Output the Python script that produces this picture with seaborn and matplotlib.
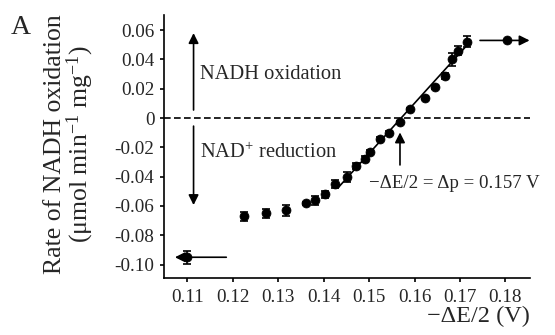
import matplotlib
matplotlib.use("Agg")
import matplotlib.pyplot as plt
import seaborn as sns
import numpy as np
import pandas as pd

# ---- data ----
delta_e = [0.1100, 0.1226, 0.1273, 0.1317, 0.1362, 0.1380, 0.1402, 0.1426,
           0.1451, 0.1472, 0.1492, 0.1502, 0.1523, 0.1544, 0.1568, 0.1590,
           0.1623, 0.1644, 0.1668, 0.1683, 0.1695, 0.1715, 0.1803]
rate = [-0.095, -0.067, -0.065, -0.063, -0.058, -0.056, -0.052, -0.045,
        -0.040, -0.033, -0.028, -0.023, -0.014, -0.010, -0.003, 0.006,
        0.014, 0.021, 0.029, 0.040, 0.046, 0.052, 0.053]
rate_err = [0.0044, 0.0032, 0.003, 0.0038, 0.001, 0.003, 0.0025, 0.003,
            0.0034, 0.002, 0.002, 0.0015, 0.001, 0.001, 0.001, 0.001,
            0.001, 0.0015, 0.002, 0.0044, 0.0032, 0.0038, 0.0]
fit_x = [0.1432, 0.1722]
fit_y = [-0.0475, 0.0520]
delta_p = 0.157
yticks = [0.06, 0.04, 0.02, 0.0, -0.02, -0.04, -0.06, -0.08, -0.10]
ytick_labels = ["0.06", "0.04", "0.02", "0", "-0.02", "-0.04", "-0.06", "-0.08", "-0.10"]
xticks = [0.11, 0.12, 0.13, 0.14, 0.15, 0.16, 0.17, 0.18]
xtick_labels = ["0.11", "0.12", "0.13", "0.14", "0.15", "0.16", "0.17", "0.18"]

df = pd.DataFrame({"x": delta_e, "y": rate, "err": rate_err})
fit_df = pd.DataFrame({"x": fit_x, "y": fit_y})

sns.set_theme(style="ticks")
plt.rcParams["font.family"] = ["Liberation Serif", "DejaVu Serif"]
plt.rcParams["mathtext.fontset"] = "custom"
plt.rcParams["mathtext.rm"] = "Liberation Serif"
plt.rcParams["mathtext.it"] = "Liberation Serif:italic"
plt.rcParams["axes.unicode_minus"] = False

fig = plt.figure(figsize=(5.55, 3.35), dpi=100)
ax = fig.add_axes([0.2955, 0.170, 0.6595, 0.785])

ax.axhline(0, color="black", lw=1.2, ls=(0, (4, 2)), zorder=1)
sns.lineplot(data=fit_df, x="x", y="y", color="black", lw=1.2, ax=ax, zorder=2)
ax.errorbar(df["x"], df["y"], yerr=df["err"], fmt="none", ecolor="black",
            elinewidth=1.2, capsize=3, capthick=1.2, zorder=3)
sns.scatterplot(data=df, x="x", y="y", color="black", s=42, edgecolor="black",
                linewidth=0.5, ax=ax, zorder=4)

arrow_kw = dict(arrowstyle="-|>", color="black", lw=1.2, mutation_scale=15,
                shrinkA=0, shrinkB=0)
# vertical arrows on the left
ax.annotate("", xy=(0.1114, 0.058), xytext=(0.1114, 0.0055), arrowprops=arrow_kw)
ax.annotate("", xy=(0.1114, -0.0594), xytext=(0.1114, -0.0055), arrowprops=arrow_kw)
# horizontal arrows through the end points
ax.annotate("", xy=(0.1073, rate[0]), xytext=(0.1186, rate[0]), arrowprops=arrow_kw)
ax.annotate("", xy=(0.1853, rate[-1]), xytext=(0.1744, rate[-1]), arrowprops=arrow_kw)
# delta p arrow
ax.annotate("", xy=(delta_p - 0.0002, -0.0098), xytext=(delta_p - 0.0002, -0.032),
            arrowprops=arrow_kw)

ax.text(0.1129, 0.0294, "NADH oxidation", fontsize=14.8, va="center", ha="left")
ax.text(0.1129, -0.024, "NAD$^{+}$ reduction", fontsize=14.8, va="center", ha="left")
ax.text(0.1500, -0.0446, "\u2212\u0394E/2 = \u0394p = 0.157 V", fontsize=13.6,
        va="center", ha="left")

ax.set_xlim(0.1049, 0.1854)
ax.set_ylim(-0.1092, 0.0703)
ax.set_yticks(yticks)
ax.set_yticklabels(ytick_labels)
ax.set_xticks(xticks)
ax.set_xticklabels(xtick_labels)
ax.tick_params(axis="both", labelsize=13.8, length=3, width=1.2, color="black",
               direction="out")
ax.tick_params(axis="y", pad=4)
ax.tick_params(axis="x", pad=5)

ax.set_xlabel("\u2212\u0394E/2 (V)", fontsize=17.5, loc="right", labelpad=0)
ax.set_ylabel("Rate of NADH oxidation\n(\u03bcmol min$^{\\mathregular{-1}}$ mg$^{\\mathregular{-1}}$)",
              fontsize=18.5, linespacing=0.95)
ax.yaxis.set_label_coords(-0.186, 0.51)

for s in ["top", "right"]:
    ax.spines[s].set_visible(False)
for s in ["left", "bottom"]:
    ax.spines[s].set_linewidth(1.2)
    ax.spines[s].set_color("black")

fig.text(0.038, 0.918, "A", fontsize=20, ha="center", va="center")

fig.savefig("out.png", dpi=100)
